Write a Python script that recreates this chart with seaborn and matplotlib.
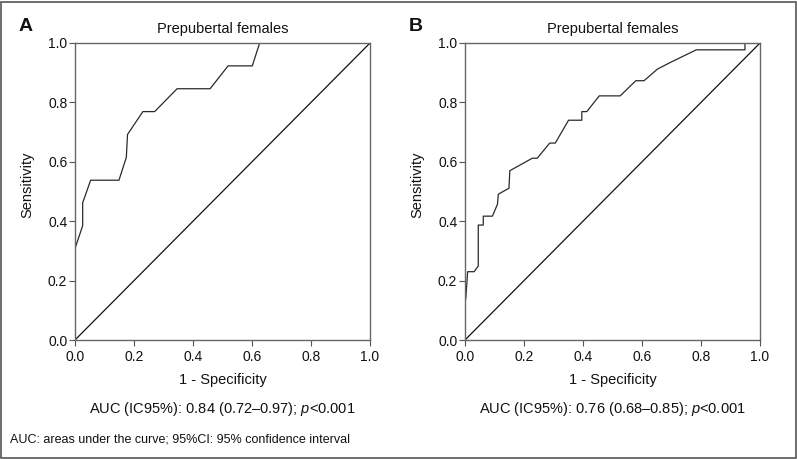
import matplotlib
matplotlib.use("Agg")
import matplotlib.pyplot as plt
import seaborn as sns
import pandas as pd
from matplotlib.patches import Rectangle

# ROC curve A (prepubertal females, panel A)
fpr_a = [0.0, 0.026, 0.026, 0.053, 0.149, 0.174, 0.178, 0.230, 0.270, 0.346, 0.458, 0.519, 0.601, 0.626, 1.0]
tpr_a = [0.308, 0.385, 0.462, 0.538, 0.538, 0.615, 0.692, 0.769, 0.769, 0.846, 0.846, 0.923, 0.923, 1.0, 1.0]

# ROC curve B (prepubertal females, panel B)
fpr_b = [0.0, 0.003, 0.009, 0.031, 0.045, 0.045, 0.062, 0.062, 0.093, 0.110, 0.113, 0.149, 0.152,
         0.228, 0.245, 0.287, 0.306, 0.351, 0.396, 0.396, 0.413, 0.455, 0.526, 0.579, 0.607,
         0.652, 0.697, 0.784, 0.949, 0.949, 1.0]
tpr_b = [0.126, 0.143, 0.230, 0.230, 0.249, 0.387, 0.387, 0.417, 0.417, 0.457, 0.491, 0.511, 0.570,
         0.612, 0.612, 0.663, 0.663, 0.740, 0.740, 0.769, 0.769, 0.822, 0.822, 0.873, 0.873,
         0.912, 0.935, 0.977, 0.977, 1.0, 1.0]

diag = [0.0, 1.0]
ticks = [0.0, 0.2, 0.4, 0.6, 0.8, 1.0]
tick_labels = ["0.0", "0.2", "0.4", "0.6", "0.8", "1.0"]
panel_letters = ["A", "B"]
titles = ["Prepubertal females", "Prepubertal females"]
auc_texts = ["AUC (IC95%): 0.84 (0.72\u20130.97); $\\it{p}$<0.001",
             "AUC (IC95%): 0.76 (0.68\u20130.85); $\\it{p}$<0.001"]
footnote = "AUC: areas under the curve; 95%CI: 95% confidence interval"

sns.set_theme(style="white")
plt.rcParams["font.family"] = ["Liberation Sans", "DejaVu Sans"]
plt.rcParams["mathtext.fontset"] = "custom"
plt.rcParams["mathtext.it"] = "Liberation Sans:italic"
plt.rcParams["mathtext.rm"] = "Liberation Sans"

W, H = 797, 459
fig = plt.figure(figsize=(W / 100, H / 100), dpi=100)

lefts = [75, 465]
curves = [(fpr_a, tpr_a), (fpr_b, tpr_b)]
for i, left in enumerate(lefts):
    ax = fig.add_axes([left / W, (H - 340) / H, 295 / W, 297 / H])
    fx, ty = curves[i]
    df = pd.DataFrame({"fpr": fx, "tpr": ty})
    sns.lineplot(data=df, x="fpr", y="tpr", ax=ax, sort=False, estimator=None,
                 color="#2a2a2a", linewidth=0.9)
    sns.lineplot(x=diag, y=diag, ax=ax, color="#111111", linewidth=0.9)
    ax.set_xlim(0, 1)
    ax.set_ylim(0, 1)
    ax.set_xticks(ticks)
    ax.set_yticks(ticks)
    ax.set_xticklabels(tick_labels, fontsize=10, color="#111111")
    ax.set_yticklabels(tick_labels, fontsize=10, color="#111111")
    ax.tick_params(axis="x", direction="out", length=4, width=0.8, color="#555555",
                   bottom=True, pad=3)
    ax.tick_params(axis="y", direction="out", length=4, width=0.8, color="#555555",
                   left=True, pad=1.5)
    for s in ax.spines.values():
        s.set_color("#666666")
        s.set_linewidth(1.0)
    ax.set_xlabel("1 - Specificity", fontsize=10.5, color="#111111", labelpad=7)
    ax.set_ylabel("Sensitivity", fontsize=10.5, color="#111111")
    ax.yaxis.set_label_coords(-0.137, 0.522)
    ax.set_title(titles[i], fontsize=10.5, color="#111111", pad=7)
    cx = (left + 147.5) / W
    fig.text(cx, 1 - 409 / H, auc_texts[i], ha="center", va="center", fontsize=10.5, color="#111111")
    fig.text((left - 56) / W, 1 - 26.5 / H, panel_letters[i], ha="left", va="center",
             fontsize=14, fontweight="bold", color="#111111")

fig.text(10 / W, 1 - 440 / H, footnote, ha="left", va="center", fontsize=9, color="#111111")
fig.patches.append(Rectangle((1 / W, 1 / H), (W - 2.5) / W, (H - 2.5) / H, transform=fig.transFigure,
                             fill=False, edgecolor="#555555", linewidth=1.2))

fig.savefig("out.png", dpi=100)
